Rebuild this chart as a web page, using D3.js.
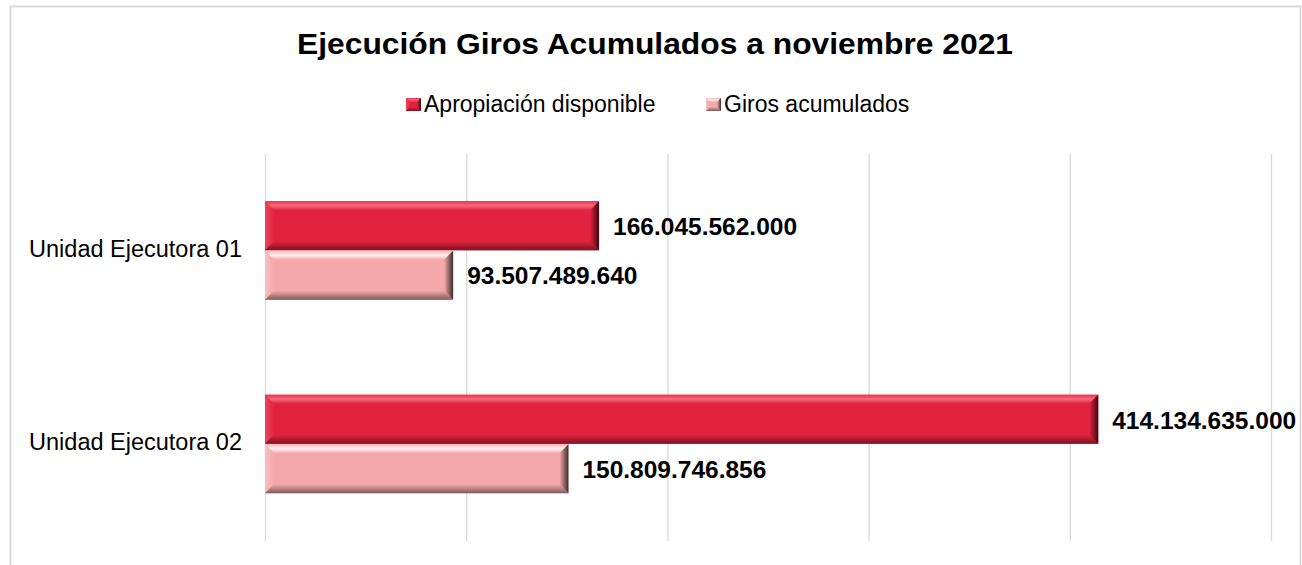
<!DOCTYPE html>
<html>
<head>
<meta charset="utf-8">
<script src="https://cdn.jsdelivr.net/npm/d3@7"></script>
<style>
    body { margin: 0; background: #fff; }
    text { font-family: "Liberation Sans", Arial, sans-serif; fill: #000; }
</style>
</head>
<body>
<div id="chart"></div>
<script>

// data
let categories = ["Unidad Ejecutora 01", "Unidad Ejecutora 02"];
let seriesNames = ["Apropiación disponible", "Giros acumulados"];
let apropiacion = [166045562000, 414134635000];
let giros = [93507489640, 150809746856];
let valueLabels = [
    ["166.045.562.000", "93.507.489.640"],
    ["414.134.635.000", "150.809.746.856"]
];
let xTicks = [0, 100e9, 200e9, 300e9, 400e9, 500e9];

let W = 1302, H = 565;
let margin = {top: 154, right: 31, bottom: 24, left: 265};

let svg = d3.select("#chart").append("svg")
    .attr("width", W)
    .attr("height", H);

let defs = svg.append("defs");

// outer chart border
svg.append("rect")
    .attr("x", 10.5).attr("y", 6.5)
    .attr("width", 1290).attr("height", 620)
    .attr("fill", "none")
    .attr("stroke", "#d9d9d9")
    .attr("stroke-width", 2);

// title
svg.append("text")
    .attr("x", 655)
    .attr("y", 54)
    .attr("text-anchor", "middle")
    .attr("textLength", 716)
    .attr("lengthAdjust", "spacingAndGlyphs")
    .style("font-size", "30px")
    .style("font-weight", "bold")
    .text("Ejecución Giros Acumulados a noviembre 2021");

// scales
let x = d3.scaleLinear()
    .domain([0, 500e9])
    .range([margin.left, W - margin.right]);

let y0 = d3.scaleBand()
    .domain(categories)
    .range([margin.top, H - margin.bottom]);

let y1 = d3.scaleBand()
    .domain(seriesNames)
    .range([0, y0.bandwidth()])
    .paddingOuter(0.955);

// palette per series: face colour and bevel stops
let palettes = [
    {id: "s0", base: "#e2233f", hi: "#f7687c", top: "#e8354f", low: "#7e1222", right: "#3f0810", left: "#e94860"},
    {id: "s1", base: "#f4a8aa", hi: "#fff0f0", top: "#f6b5b6", low: "#7f5b5d", right: "#3c2c2d", left: "#f7c0c1"}
];

function grad(id, dir, stops) {
    let g = defs.append("linearGradient").attr("id", id)
        .attr("x1", 0).attr("y1", 0)
        .attr("x2", dir === "h" ? 1 : 0).attr("y2", dir === "h" ? 0 : 1);
    stops.forEach(s => g.append("stop").attr("offset", s[0]).attr("stop-color", s[1]));
}

palettes.forEach(p => {
    grad(p.id + "-top", "v", [[0, p.top], [0.5, p.hi], [1, p.base]]);
    grad(p.id + "-bottom", "v", [[0, p.base], [1, p.low]]);
    grad(p.id + "-right", "h", [[0, p.base], [1, p.right]]);
    grad(p.id + "-left", "h", [[0, p.left], [1, p.base]]);
});

// gridlines
let xAxis = d3.axisBottom(x)
    .tickValues(xTicks)
    .tickSize(-(H - margin.bottom - margin.top))
    .tickFormat("");

let grid = svg.append("g")
    .attr("class", "grid")
    .attr("transform", `translate(0, ${H - margin.bottom})`)
    .call(xAxis);
grid.select(".domain").remove();
grid.selectAll("line").attr("stroke", "#d9d9d9").attr("stroke-width", 1.3);

// category labels
svg.append("g")
    .selectAll("text")
    .data(categories)
    .enter().append("text")
    .attr("x", 242)
    .attr("y", d => y0(d) + y0.bandwidth() / 2 + 6)
    .attr("text-anchor", "end")
    .style("font-size", "23.5px")
    .text(d => d);

// bevelled bar
function bevelBar(g, bx, by, bw, bh, pal, b) {
    let bv = Math.min(b, bw / 2);
    let bvy = Math.min(b, bh / 2);
    let x1 = bx + bw, y1b = by + bh;
    g.append("rect").attr("x", bx).attr("y", by).attr("width", bw).attr("height", bh).attr("fill", pal.base);
    g.append("polygon")
        .attr("points", [[bx, by], [x1, by], [x1 - bv, by + bvy], [bx + bv, by + bvy]].join(" "))
        .attr("fill", `url(#${pal.id}-top)`);
    g.append("polygon")
        .attr("points", [[bx, by], [bx + bv, by + bvy], [bx + bv, y1b - bvy], [bx, y1b]].join(" "))
        .attr("fill", `url(#${pal.id}-left)`);
    g.append("polygon")
        .attr("points", [[bx, y1b], [bx + bv, y1b - bvy], [x1 - bv, y1b - bvy], [x1, y1b]].join(" "))
        .attr("fill", `url(#${pal.id}-bottom)`);
    g.append("polygon")
        .attr("points", [[x1, by], [x1, y1b], [x1 - bv, y1b - bvy], [x1 - bv, by + bvy]].join(" "))
        .attr("fill", `url(#${pal.id}-right)`);
}

let bars = svg.append("g").attr("class", "bars");

categories.forEach((cat, i) => {
    let vals = [apropiacion[i], giros[i]];
    seriesNames.forEach((s, j) => {
        let by = y0(cat) + y1(s);
        let bh = y1.bandwidth();
        bevelBar(bars, x(0), by, x(vals[j]) - x(0), bh - 0.5, palettes[j], 9);
        bars.append("text")
            .attr("x", x(vals[j]) + 14)
            .attr("y", by + bh / 2 + 9)
            .style("font-size", "24.5px")
            .style("font-weight", "bold")
            .text(valueLabels[i][j]);
    });
});

// legend
let legendX = [406, 706];
let legend = svg.append("g").attr("class", "legend");
seriesNames.forEach((name, j) => {
    let lg = legend.append("g");
    bevelBar(lg, legendX[j], 98, 15, 13, palettes[j], 4);
    lg.append("text")
        .attr("x", legendX[j] + 18)
        .attr("y", 112)
        .style("font-size", "23px")
        .text(name);
});

</script>
</body>
</html>
